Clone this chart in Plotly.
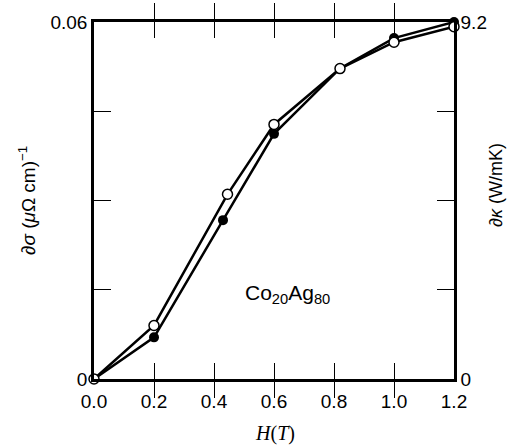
import plotly.graph_objects as go

# Data
H_filled = [0.0, 0.2, 0.43, 0.6, 0.82, 1.0, 1.2]
sigma_filled = [0.0, 0.0070, 0.0267, 0.0412, 0.0522, 0.0573, 0.0600]

H_open = [0.0, 0.2, 0.445, 0.6, 0.82, 1.0, 1.2]
kappa_open = [0.0, 1.38, 4.76, 6.56, 8.0, 8.68, 9.08]

x_ticks = [0.0, 0.2, 0.4, 0.6, 0.8, 1.0, 1.2]
x_ticktext = ["0.0", "0.2", "0.4", "0.6", "0.8", "1.0", "1.2"]
y_ticks = [0, 0.015, 0.03, 0.045, 0.06]
y_ticktext = ["0", "", "", "", "0.06"]
y2_ticks = [0, 2.3, 4.6, 6.9, 9.2]
y2_ticktext = ["0", "", "", "", "9.2"]

FONT = "Liberation Sans, Arial, sans-serif"

fig = go.Figure()
fig.add_trace(go.Scatter(
    x=H_filled, y=sigma_filled, mode="lines+markers",
    line=dict(color="black", width=2.5),
    marker=dict(symbol="circle", size=10, color="black"),
    cliponaxis=False, showlegend=False, yaxis="y"))
fig.add_trace(go.Scatter(
    x=H_open, y=kappa_open, mode="lines+markers",
    line=dict(color="black", width=2.5),
    marker=dict(symbol="circle", size=10, color="white",
                line=dict(color="black", width=1.5)),
    cliponaxis=False, showlegend=False, yaxis="y2"))

pl, pr, pt, pb = 94, 454, 22, 379


def px2paper(px, py):
    return (px - pl) / (pr - pl), (pb - py) / (pb - pt)


def ann(text, px, py, size, family=FONT, angle=0):
    x, y = px2paper(px, py)
    return dict(text=text, x=x, y=y, xref="paper", yref="paper",
                xanchor="center", yanchor="middle", showarrow=False,
                textangle=angle, font=dict(size=size, family=family, color="black"))


fig.update_layout(
    width=513, height=446,
    margin=dict(l=pl, r=513 - pr, t=pt, b=446 - pb),
    paper_bgcolor="white", plot_bgcolor="white",
    font=dict(family=FONT, size=19, color="black"),
    xaxis=dict(range=[0, 1.2], tickvals=x_ticks, ticktext=x_ticktext,
               showline=True, linewidth=2.5, linecolor="black", mirror="allticks",
               ticks="inside", ticklen=16, tickwidth=1, tickcolor="black",
               ticklabelstandoff=3,
               showgrid=False, zeroline=False, tickfont=dict(size=19)),
    yaxis=dict(range=[0, 0.06], tickvals=y_ticks, ticktext=y_ticktext,
               showline=True, linewidth=2.5, linecolor="black",
               ticks="inside", ticklen=17, tickwidth=1, tickcolor="black",
               showgrid=False, zeroline=False, tickfont=dict(size=19)),
    yaxis2=dict(range=[0, 9.2], tickvals=y2_ticks, ticktext=y2_ticktext,
                overlaying="y", side="right",
                showline=True, linewidth=2.5, linecolor="black",
                ticks="inside", ticklen=17, tickwidth=1, tickcolor="black",
                showgrid=False, zeroline=False, tickfont=dict(size=19)),
    annotations=[
        ann("Co<sub>20</sub>Ag<sub>80</sub>", 287, 294, 21),
        ann("∂<i>σ</i> (<i>μ</i>Ω cm)<sup>−1</sup>", 27, 201, 19, angle=-90),
        ann("∂<i>κ</i> (W/mK)", 496, 185, 18, angle=-90),
        ann("<i>H</i>(<i>T</i>)", 275, 434, 20, family="Liberation Serif, serif"),
    ],
)

fig.write_html("out.html")
